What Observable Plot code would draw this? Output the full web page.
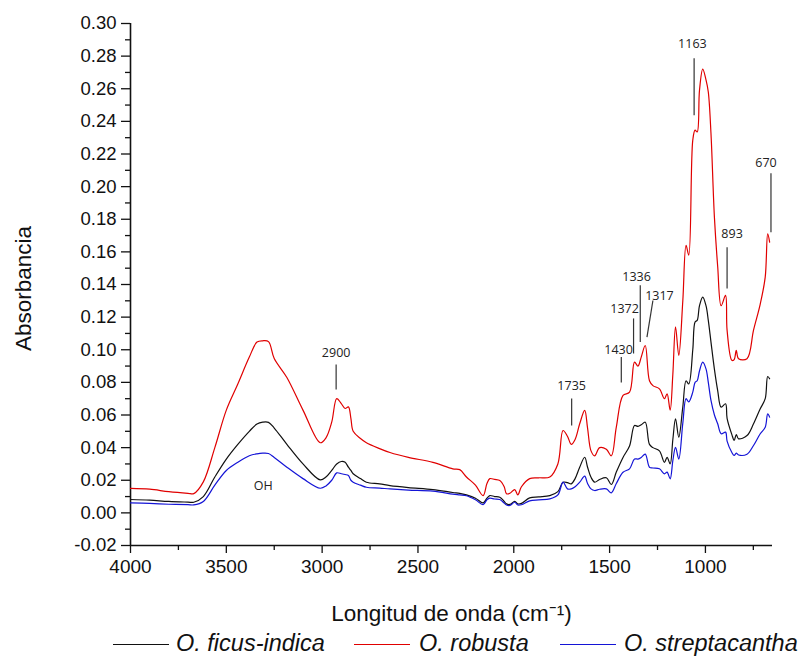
<!DOCTYPE html>
<html>
<head>
<meta charset="utf-8">
<script src="https://cdn.jsdelivr.net/npm/d3@7"></script>
<script src="https://cdn.jsdelivr.net/npm/@observablehq/plot@0.6"></script>
<style>
  html, body { margin: 0; padding: 0; background: #fff; }
  #wrap { position: relative; width: 809px; height: 656px; overflow: hidden; font-family: "Liberation Sans", Arial, sans-serif; }
  #legend { position: absolute; top: 630px; left: 0; width: 809px; height: 26px; }
  .sw { position: absolute; top: 14px; width: 56px; height: 0; border-top: 1.5px solid; }
  .lt { position: absolute; top: 0; font-style: italic; font-size: 23.5px; line-height: 27px; white-space: nowrap; color: #111; }
</style>
</head>
<body>
<div id="wrap">
  <div id="chart"></div>
  <div id="legend"></div>
</div>
<script>
// Wavenumbers (cm-1)
const wn = [
  4000, 3900, 3800, 3700, 3670, 3620, 3560, 3500, 3440, 3380,
  3340, 3310, 3280, 3250, 3184, 3100, 3010, 2980, 2950, 2924,
  2900, 2880, 2863, 2850, 2838, 2800, 2769, 2700, 2646, 2550,
  2422, 2318, 2282, 2247, 2200, 2160, 2140, 2125, 2100, 2073,
  2050, 2038, 2020, 1995, 1979, 1960, 1917, 1870, 1812, 1770,
  1743, 1720, 1700, 1680, 1656, 1630, 1615, 1597, 1578, 1552,
  1517, 1491, 1465, 1430, 1396, 1370, 1352, 1335, 1314, 1292,
  1274, 1240, 1214, 1200, 1184, 1170, 1156, 1139, 1118, 1101,
  1087, 1066, 1054, 1043, 1031, 1014, 997, 985, 971, 953,
  936, 918, 895, 887, 862, 850, 839, 827, 783, 749,
  714, 688, 675, 665
];
// O. robusta (red)
const robusta = [
  0.015, 0.0145, 0.013, 0.012, 0.0118, 0.019, 0.040, 0.063, 0.079, 0.0955,
  0.1047, 0.1055, 0.105, 0.0946, 0.083, 0.063, 0.043, 0.046, 0.0556, 0.070,
  0.067, 0.064, 0.065, 0.058, 0.050, 0.0456, 0.043, 0.0394, 0.037, 0.034,
  0.031, 0.027, 0.0265, 0.022, 0.017, 0.0106, 0.018, 0.021, 0.0205, 0.0198,
  0.016, 0.0117, 0.012, 0.0143, 0.011, 0.016, 0.021, 0.0215, 0.022, 0.030,
  0.0505, 0.047, 0.042, 0.045, 0.0546, 0.0628, 0.052, 0.038, 0.035, 0.040,
  0.039, 0.035, 0.0525, 0.072, 0.074, 0.0924, 0.090, 0.0955, 0.1026, 0.081,
  0.078, 0.076, 0.070, 0.073, 0.063, 0.085, 0.114, 0.0965, 0.130, 0.164,
  0.158, 0.2285, 0.2346, 0.2335, 0.259, 0.272, 0.2655, 0.258, 0.2326, 0.181,
  0.151, 0.127, 0.1333, 0.112, 0.0935, 0.094, 0.0996, 0.0945, 0.0945, 0.112,
  0.128, 0.1445, 0.171, 0.166
];
// O. ficus-indica (black)
const ficus = [
  0.0082, 0.0078, 0.007, 0.0066, 0.0065, 0.010, 0.022, 0.033, 0.042, 0.050,
  0.0545, 0.0556, 0.0555, 0.052, 0.042, 0.030, 0.0202, 0.022, 0.026, 0.030,
  0.0315, 0.031, 0.028, 0.026, 0.024, 0.021, 0.0188, 0.0178, 0.0167, 0.0155,
  0.0143, 0.0125, 0.012, 0.011, 0.009, 0.0061, 0.009, 0.0106, 0.010, 0.0096,
  0.007, 0.0055, 0.0052, 0.0071, 0.0055, 0.0058, 0.0092, 0.0098, 0.0106, 0.013,
  0.0188, 0.0185, 0.0178, 0.021, 0.028, 0.0341, 0.028, 0.0218, 0.0188, 0.0205,
  0.0215, 0.0174, 0.025, 0.034, 0.041, 0.0536, 0.053, 0.054, 0.0556, 0.042,
  0.040, 0.038, 0.031, 0.034, 0.030, 0.045, 0.0577, 0.0464, 0.065, 0.081,
  0.079, 0.100, 0.117, 0.118, 0.127, 0.1323, 0.127, 0.118, 0.1047, 0.088,
  0.075, 0.0648, 0.0669, 0.058, 0.048, 0.0444, 0.048, 0.0454, 0.0474, 0.0546,
  0.0638, 0.070, 0.0836, 0.0822
];
// O. streptacantha (blue)
const strept = [
  0.0061, 0.0058, 0.0053, 0.005, 0.0049, 0.007, 0.017, 0.026, 0.031, 0.035,
  0.0362, 0.0366, 0.0364, 0.034, 0.028, 0.021, 0.0151, 0.0165, 0.020, 0.0245,
  0.024, 0.0235, 0.0229, 0.020, 0.0188, 0.017, 0.0157, 0.0152, 0.0147, 0.014,
  0.0133, 0.0115, 0.011, 0.0105, 0.008, 0.0051, 0.008, 0.009, 0.0085, 0.0082,
  0.006, 0.0048, 0.0045, 0.0065, 0.0048, 0.005, 0.0074, 0.008, 0.0086, 0.011,
  0.0188, 0.0147, 0.0147, 0.016, 0.0188, 0.0225, 0.018, 0.0147, 0.0137, 0.0145,
  0.0147, 0.0123, 0.018, 0.0249, 0.027, 0.033, 0.033, 0.034, 0.036, 0.028,
  0.0275, 0.027, 0.0239, 0.025, 0.0209, 0.032, 0.0402, 0.033, 0.055, 0.070,
  0.068, 0.074, 0.080, 0.081, 0.087, 0.0924, 0.0883, 0.080, 0.0689, 0.060,
  0.0546, 0.0485, 0.0495, 0.044, 0.037, 0.0352, 0.0366, 0.0355, 0.036, 0.0413,
  0.0485, 0.0525, 0.0607, 0.0587
];

const seriesNames = ["O. ficus-indica", "O. robusta", "O. streptacantha"];
const seriesColors = ["#111111", "#e00000", "#1414d6"];

// Ticks
const xTicks = [4000, 3500, 3000, 2500, 2000, 1500, 1000];
const xMinor = [3750, 3250, 2750, 2250, 1750, 1250, 750];
const yTicks = [-0.02, 0.00, 0.02, 0.04, 0.06, 0.08, 0.10, 0.12, 0.14, 0.16, 0.18, 0.20, 0.22, 0.24, 0.26, 0.28, 0.30];
const yMinor = [-0.01, 0.01, 0.03, 0.05, 0.07, 0.09, 0.11, 0.13, 0.15, 0.17, 0.19, 0.21, 0.23, 0.25, 0.27, 0.29];

// Peak annotations
const annLabels = ["2900", "1735", "1430", "1372", "1336", "1317", "1163", "893", "670"];
const annTextX  = [2927, 1698, 1453, 1422, 1359, 1240, 1068, 861, 684];
const annTextY  = [0.0978, 0.0775, 0.100, 0.1247, 0.1444, 0.1327, 0.2873, 0.1707, 0.2143];
const annX1 = [2927, 1698, 1439, 1375, 1340, 1274, 1059, 887, 658];
const annY1 = [0.091, 0.0701, 0.0955, 0.1192, 0.1395, 0.1302, 0.2787, 0.1628, 0.2082];
const annX2 = [2927, 1698, 1439, 1375, 1340, 1305, 1059, 887, 658];
const annY2 = [0.0757, 0.0536, 0.080, 0.0977, 0.1047, 0.1077, 0.2438, 0.1376, 0.172];
const ohLabel = ["OH"];
const ohX = [3307];
const ohY = [0.0167];

const xTitle = "Longitud de onda (cm\u207B\u00B9)";
const yTitle = "Absorbancia";

const fmt = d => d.toFixed(2);

const chart = Plot.plot({
  width: 809,
  height: 630,
  marginTop: 23,
  marginBottom: 85,
  marginLeft: 130,
  marginRight: 37,
  style: { fontFamily: "'Liberation Sans', Arial, sans-serif", background: "#fff", color: "#111" },
  x: { domain: [4000, 650] },
  y: { domain: [-0.02, 0.30] },
  marks: [
    Plot.axisY(yTicks, { tickSize: 9, tickPadding: 5, tickFormat: fmt, fontSize: 18.5, label: null, strokeWidth: 1.3, stroke: "#111" }),
    Plot.axisY(yMinor, { tickSize: 5, tickFormat: () => "", label: null, strokeWidth: 1.3, stroke: "#111" }),
    Plot.axisX(xTicks, { tickSize: 8, tickPadding: 6, tickFormat: d => String(d), fontSize: 19, label: null, strokeWidth: 1.3, stroke: "#111" }),
    Plot.axisX(xMinor, { tickSize: 5, tickFormat: () => "", label: null, strokeWidth: 1.3, stroke: "#111" }),
    Plot.ruleX([4000], { stroke: "#111", strokeWidth: 1.6 }),
    Plot.ruleY([-0.02], { stroke: "#111", strokeWidth: 1.6 }),
    Plot.line(ficus, { x: wn, y: ficus, stroke: seriesColors[0], strokeWidth: 1.2, curve: "catmull-rom" }),
    Plot.line(strept, { x: wn, y: strept, stroke: seriesColors[2], strokeWidth: 1.2, curve: "catmull-rom" }),
    Plot.line(robusta, { x: wn, y: robusta, stroke: seriesColors[1], strokeWidth: 1.2, curve: "catmull-rom" }),
    Plot.link(annLabels, { x1: annX1, y1: annY1, x2: annX2, y2: annY2, stroke: "#333", strokeWidth: 1.2 }),
    Plot.text(annLabels, { x: annTextX, y: annTextY, text: d => d, fontSize: 12.5, fontFamily: "'Open Sans', sans-serif", fill: "#222" }),
    Plot.text(ohLabel, { x: ohX, y: ohY, text: d => d, fontSize: 12.5, fontFamily: "'Open Sans', sans-serif", fill: "#222" }),
    Plot.text([xTitle], { frameAnchor: "bottom", dy: 68, textAnchor: "middle", lineAnchor: "middle", text: d => d, fontSize: 22.5, fill: "#111" }),
    Plot.text([yTitle], { frameAnchor: "left", dx: -107, dy: 4, rotate: -90, textAnchor: "middle", lineAnchor: "middle", text: d => d, fontSize: 22.5, fill: "#111" })
  ]
});
document.getElementById("chart").appendChild(chart);

// Legend below the SVG
const legendPos = [{ line: 113, text: 176 }, { line: 354, text: 419 }, { line: 560, text: 624 }];
const legend = document.getElementById("legend");
seriesNames.forEach((name, i) => {
  const sw = document.createElement("div");
  sw.className = "sw";
  sw.style.left = legendPos[i].line + "px";
  sw.style.borderTopColor = seriesColors[i];
  legend.appendChild(sw);
  const t = document.createElement("div");
  t.className = "lt";
  t.style.left = legendPos[i].text + "px";
  t.textContent = name;
  legend.appendChild(t);
});
</script>
</body>
</html>
